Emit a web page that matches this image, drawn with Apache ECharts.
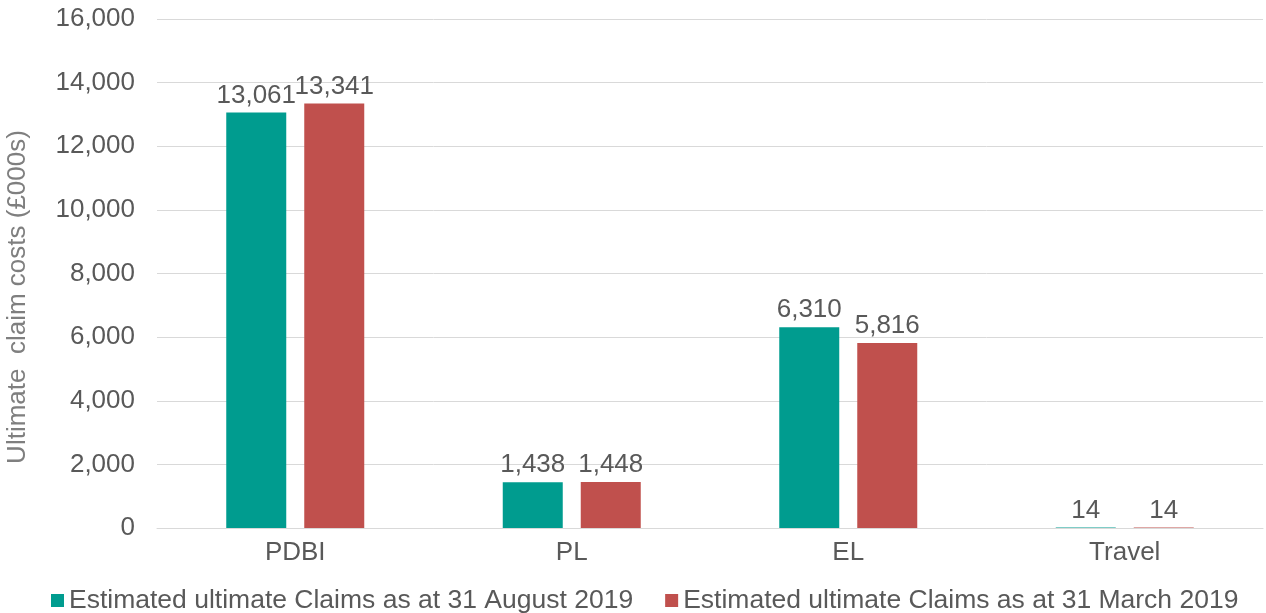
<!DOCTYPE html>
<html>
<head>
<meta charset="utf-8">
<script src="https://cdn.jsdelivr.net/npm/echarts@6/dist/echarts.min.js"></script>
<style>
html,body{margin:0;padding:0;background:#fff;}
#chart{width:1266px;height:613px;}
</style>
</head>
<body>
<div id="chart"></div>
<script>
const categories = ['PDBI', 'PL', 'EL', 'Travel'];
const seriesNames = ['Estimated ultimate Claims as at 31 August 2019', 'Estimated ultimate Claims as at 31 March 2019'];
const august2019 = [13061, 1438, 6310, 14];
const march2019 = [13341, 1448, 5816, 14];
const yAxisName = 'Ultimate  claim costs (£000s)';

const font = 'Liberation Sans, Arial, sans-serif';
const textColor = '#595959';
const fmt = v => v.toLocaleString('en-US');

const chart = echarts.init(document.getElementById('chart'));
chart.setOption({
  animation: false,
  textStyle: { fontFamily: font },
  grid: { left: 157, right: 3, top: 19, bottom: 85 },
  graphic: [{
    type: 'text',
    x: 18,
    y: 297,
    rotation: Math.PI / 2,
    style: {
      text: yAxisName,
      fontSize: 26,
      fontFamily: font,
      fill: '#7f7f7f',
      align: 'center',
      verticalAlign: 'middle'
    }
  }],
  legend: {
    top: 582,
    left: 46,
    itemWidth: 13,
    itemHeight: 13,
    itemGap: 32,
    icon: 'rect',
    textStyle: { fontSize: 26.5, color: textColor, fontFamily: font },
    data: seriesNames
  },
  xAxis: {
    type: 'category',
    data: categories,
    axisLine: { show: true, lineStyle: { color: '#d9d9d9', width: 1 } },
    axisTick: { show: false },
    axisLabel: { fontSize: 26, color: textColor, margin: 12 }
  },
  yAxis: {
    type: 'value',
    min: 0,
    max: 16000,
    interval: 2000,
    axisLine: { show: false },
    axisTick: { show: false },
    axisLabel: { fontSize: 26, color: textColor, margin: 22, formatter: fmt },
    splitLine: { lineStyle: { color: '#d9d9d9', width: 1 } }
  },
  series: [
    {
      name: seriesNames[0],
      type: 'bar',
      data: august2019,
      barWidth: 60,
      barGap: '30%',
      itemStyle: { color: '#009C8F' },
      label: { show: true, position: 'top', distance: 4, fontSize: 26, color: textColor, formatter: p => fmt(p.value) }
    },
    {
      name: seriesNames[1],
      type: 'bar',
      data: march2019,
      barWidth: 60,
      barGap: '30%',
      itemStyle: { color: '#C0504D' },
      label: { show: true, position: 'top', distance: 4, fontSize: 26, color: textColor, formatter: p => fmt(p.value) }
    }
  ]
});
</script>
</body>
</html>
